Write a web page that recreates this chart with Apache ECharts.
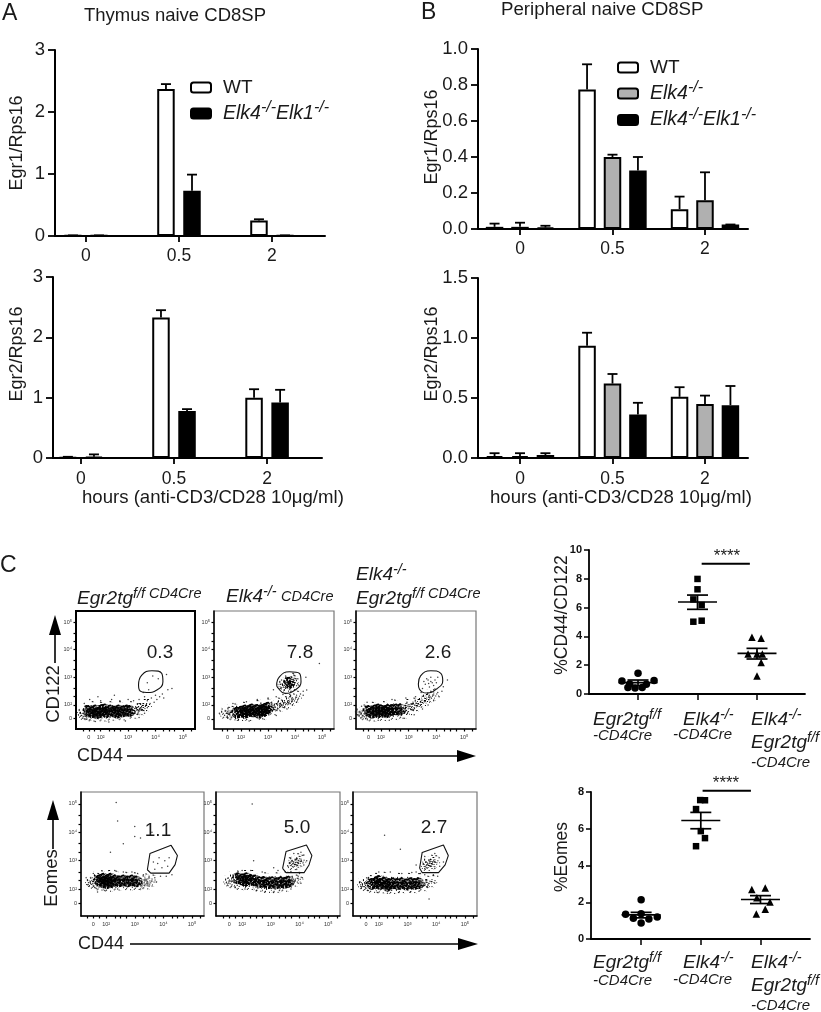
<!DOCTYPE html>
<html><head><meta charset="utf-8">
<style>html,body{margin:0;padding:0;background:#fff}#c{width:821px;height:1012px}</style>
<script src="https://cdn.jsdelivr.net/npm/echarts@6/dist/echarts.min.js"></script>
</head><body><div id="c"></div>
<script>
// ---------- bar panel data ----------
const timeCategories = ['0','0.5','2'];
const a1WT = [0.005,2.37,0.25],  a1WTerr = [0.01,2.45,0.27];
const a1DK = [0.005,0.73,0.005], a1DKerr = [0.01,0.99,0.01];
const a2WT = [0.01,2.33,1.0],    a2WTerr = [0.02,2.45,1.14];
const a2DK = [0.02,0.78,0.92],   a2DKerr = [0.06,0.81,1.13];
const b1WT = [0.012,0.775,0.11], b1WTerr = [0.03,0.915,0.18];
const b1KO = [0.012,0.40,0.16],  b1KOerr = [0.035,0.413,0.315];
const b1DK = [0.008,0.325,0.025],b1DKerr = [0.018,0.40,0.025];
const b2WT = [0.015,0.936,0.51], b2WTerr = [0.04,1.044,0.59];
const b2KO = [0.015,0.62,0.45],  b2KOerr = [0.04,0.70,0.52];
const b2DK = [0.025,0.363,0.44], b2DKerr = [0.04,0.46,0.60];

// ---------- dot plot data ----------
const cd122Circles = [[0,1.44],[-0.27,0.90],[0.27,0.93],[-0.14,0.69],[0.14,0.67],[-0.17,0.46],[-0.05,0.42],[0.07,0.46]];
const cd122Squares = [[1,7.99],[1,7.27],[0.93,6.57],[1.07,6.18],[0.93,5.02],[1.07,5.09]];
const cd122Triangles = [[1.915,3.94],[2.07,3.87],[1.85,2.78],[2,2.78],[2.09,2.78],[2.07,2.18],[2,1.25]];
const cd122Stats = [[0,0.79,0.97,0.58],[1,6.39,6.87,5.88],[2,2.82,3.17,2.43]];
const eomesCircles = [[0,2.13],[-0.26,1.35],[0,1.38],[-0.13,1.13],[0.13,1.09],[0.27,1.2],[0,0.87]];
const eomesSquares = [[0.99,7.56],[1.07,7.55],[0.92,7.07],[1,5.87],[1.07,5.49],[0.92,5.05]];
const eomesTriangles = [[1.855,2.69],[2.08,2.78],[1.94,2.24],[2.16,2.02],[2.08,1.62],[1.93,1.36]];
const eomesStats = [[0,1.31,1.45,1.15],[1,6.45,6.89,6.0],[2,2.15,2.36,1.93]];
const cd122Sig = [[1.07,9.05],[1.88,9.05]];
const eomesSig = [[1.03,8.07],[1.84,8.07]];

// ---------- flow cytometry data (log10 decades, hand-read clusters) ----------
const flowTickVals = [2,3,4,5];
const flowTickText = ['10²','10³','10⁴','10⁵'];
const p1Core = [[1.55,1.78],[1.68,1.74],[1.8,1.8],[1.95,1.73],[2.05,1.82],[2.2,1.74],[2.35,1.8],[2.5,1.75],[2.65,1.8],[2.8,1.76],[2.95,1.8],[3.05,1.78],[1.85,1.7],[2.15,1.84],[2.6,1.72]];
const p1Halo = [[1.38,1.78],[1.42,1.68],[1.55,1.66],[1.7,1.62],[1.9,1.9],[2.1,1.62],[2.25,1.92],[2.4,1.65],[2.6,1.92],[2.8,1.66],[3.0,1.92],[3.2,1.72],[3.3,1.85],[3.45,1.85],[3.5,2.0],[1.6,1.92],[3.62,2.0]];
const p1Sparse = [[3.7,1.9],[3.7,2.15],[3.8,2.05],[3.85,2.25],[3.95,2.1],[4.0,2.35],[4.05,2.2],[4.15,2.3],[4.25,2.4],[4.3,2.25],[3.6,2.3],[3.4,2.2],[3.2,2.15],[3.0,2.2],[2.7,2.15],[2.4,2.2],[2.0,2.15],[1.6,2.2],[1.4,2.05],[1.25,1.7],[1.4,1.5],[1.8,1.4],[2.3,1.38],[2.9,1.42],[3.4,1.55],[3.6,1.7],[3.9,3.05],[3.7,2.8],[4.1,2.95],[4.6,2.6],[4.4,3.1],[4.45,2.55],[2.5,2.35],[1.9,2.3],[3.75,2.55],[3.55,2.45]];
const p1Gate = [[3.38,2.72],[3.5,3.08],[3.87,3.24],[4.23,3.14],[4.27,2.84],[4.05,2.54],[3.68,2.45],[3.41,2.54],[3.38,2.72]];

const p2Core = [[1.85,1.72],[2.0,1.75],[2.15,1.72],[2.3,1.78],[2.45,1.76],[2.6,1.82],[2.75,1.8],[2.9,1.86],[3.0,1.9],[2.4,1.84],[2.65,1.72],[2.15,1.8],[2.85,1.78],[3.78,2.8]];
const p2Halo = [[1.45,1.72],[1.58,1.75],[1.72,1.66],[1.68,1.84],[2.0,1.64],[2.0,1.9],[2.3,1.64],[2.5,1.96],[2.8,1.68],[2.9,2.02],[3.2,1.85],[3.3,2.05],[3.4,1.98],[3.55,2.1],[3.7,2.1],[3.85,2.2],[3.75,2.82],[3.88,2.86],[3.7,2.7],[3.92,2.75],[3.82,2.95],[3.6,2.8],[4.0,2.3]];
const p2Sparse = [[1.2,1.7],[1.3,1.85],[1.5,1.55],[1.9,1.45],[2.3,1.42],[2.8,1.5],[3.3,1.62],[3.7,1.85],[3.9,2.0],[4.1,2.2],[4.2,2.4],[4.3,2.5],[4.43,2.54],[4.3,2.35],[4.05,2.1],[3.3,2.3],[3.0,2.25],[2.6,2.2],[2.2,2.12],[1.7,2.05],[3.45,2.6],[3.5,2.9],[3.65,3.05],[3.95,3.08],[4.1,2.95],[4.12,2.72],[3.45,2.75],[3.6,2.55],[3.85,2.5],[4.4,3.0],[4.9,3.5],[3.2,2.55],[3.55,2.38],[3.8,2.38]];
const p2Gate = [[3.32,2.72],[3.42,3.02],[3.79,3.2],[4.16,3.14],[4.22,2.84],[4.0,2.54],[3.63,2.42],[3.35,2.64],[3.32,2.72]];

const p3Core = [[1.55,1.78],[1.68,1.72],[1.78,1.8],[1.9,1.74],[2.0,1.8],[2.12,1.76],[2.25,1.82],[2.4,1.82],[2.55,1.84],[2.7,1.84],[1.9,1.84],[2.2,1.74]];
const p3Halo = [[1.3,1.8],[1.4,1.72],[1.45,1.66],[1.6,1.9],[1.7,1.62],[2.0,1.92],[2.1,1.64],[2.4,1.98],[2.5,1.68],[2.8,1.72],[2.85,2.0],[3.05,1.85],[3.1,2.05],[3.25,2.0],[3.4,2.12],[3.55,2.18],[3.7,2.3],[3.85,2.38]];
const p3Sparse = [[1.15,1.65],[1.3,1.95],[1.5,2.1],[1.45,1.5],[1.9,1.45],[2.3,1.45],[2.8,1.52],[3.2,1.65],[3.5,1.85],[3.7,2.0],[3.9,2.15],[4.1,2.3],[4.2,2.5],[4.25,2.66],[4.05,2.45],[3.25,2.3],[2.9,2.25],[2.4,2.2],[3.5,2.6],[3.6,2.75],[3.7,2.9],[3.75,2.65],[3.8,3.0],[3.85,2.8],[3.9,2.7],[3.95,2.9],[4.0,2.8],[3.8,2.85],[3.72,2.78],[3.65,2.95],[4.05,3.0],[3.55,2.85],[3.9,2.55],[4.4,2.9],[3.45,2.45]];
const p3Gate = [[3.35,2.76],[3.43,3.05],[3.8,3.24],[4.16,3.14],[4.23,2.88],[4.01,2.58],[3.65,2.43],[3.39,2.57],[3.35,2.76]];

const p4Core = [[1.75,2.3],[1.88,2.24],[1.9,2.36],[2.02,2.3],[2.15,2.36],[2.15,2.24],[2.3,2.3],[2.45,2.27],[2.6,2.3],[2.75,2.27],[2.9,2.3],[3.05,2.27],[2.02,2.2]];
const p4Halo = [[1.5,2.28],[1.6,2.22],[1.62,2.36],[1.75,2.45],[2.0,2.46],[2.25,2.44],[1.8,2.16],[2.1,2.12],[2.4,2.16],[2.6,2.4],[2.9,2.38],[3.2,2.27],[3.3,2.34],[3.4,2.2],[3.55,2.3],[2.8,2.17],[3.1,2.18]];
const p4Sparse = [[1.35,2.15],[1.3,2.4],[1.55,2.55],[1.6,2.05],[1.7,1.9],[1.95,1.95],[2.4,2.0],[2.3,2.65],[2.6,2.6],[2.9,2.6],[3.1,2.55],[3.3,2.5],[3.5,2.45],[3.7,2.4],[3.9,2.45],[4.1,2.45],[4.3,2.5],[3.75,2.25],[3.5,2.1],[3.2,2.0],[3.7,2.7],[3.8,2.9],[3.95,2.75],[4.05,3.0],[4.15,2.8],[3.85,3.1],[4.2,3.1],[3.65,2.95],[2.15,3.3],[2.6,3.6],[2.4,4.4],[3.0,3.85],[3.2,3.8],[3.0,4.2],[2.35,5.05],[3.6,4.0]];
const p4Gate = [[3.44,2.68],[3.53,3.25],[4.27,3.54],[4.49,3.18],[4.41,2.86],[4.2,2.56],[3.56,2.56],[3.44,2.68]];

const p5Core = [[1.85,2.38],[2.0,2.34],[2.15,2.38],[2.3,2.32],[2.45,2.3],[2.6,2.24],[2.75,2.25],[2.9,2.2],[3.05,2.24],[3.2,2.2],[3.35,2.24],[3.5,2.22],[3.62,2.26],[2.1,2.28]];
const p5Halo = [[1.58,2.3],[1.7,2.24],[1.75,2.44],[2.0,2.46],[2.25,2.46],[1.95,2.18],[2.3,2.18],[2.6,2.12],[2.9,2.08],[3.2,2.08],[3.5,2.12],[2.7,2.38],[3.1,2.38],[3.5,2.4],[3.8,2.3],[3.9,2.4],[3.9,2.96],[3.8,2.88],[4.0,3.0],[3.85,3.05]];
const p5Sparse = [[1.45,2.22],[1.5,2.38],[1.75,2.08],[2.1,2.0],[2.5,1.95],[2.8,1.9],[3.1,1.88],[3.3,1.95],[3.7,2.0],[4.05,2.2],[4.1,2.4],[4.0,2.55],[3.7,2.62],[3.5,2.6],[3.25,2.65],[3.1,2.75],[2.7,2.6],[2.3,2.65],[2.0,2.65],[2.4,3.0],[3.6,2.8],[3.65,3.1],[3.7,2.95],[4.15,2.85],[4.15,3.2],[4.05,3.3],[3.8,3.25],[3.9,2.7],[4.25,3.0],[2.35,5.0]];
const p5Gate = [[3.41,2.73],[3.53,3.32],[4.24,3.55],[4.43,3.18],[4.33,2.85],[4.16,2.58],[3.53,2.58],[3.41,2.73]];

const p6Core = [[1.75,2.18],[1.9,2.22],[2.05,2.18],[2.2,2.22],[2.35,2.18],[2.5,2.2],[2.65,2.18],[2.8,2.2],[2.95,2.16],[3.1,2.2],[3.25,2.18],[3.38,2.2],[2.0,2.28],[2.3,2.12]];
const p6Halo = [[1.48,2.2],[1.58,2.14],[1.62,2.28],[1.8,2.36],[2.1,2.4],[1.8,2.08],[2.1,2.06],[2.5,2.04],[2.8,2.07],[3.2,2.07],[2.6,2.36],[2.95,2.36],[3.3,2.35],[3.55,2.14],[3.62,2.26],[3.8,2.28],[3.8,2.92],[3.7,2.85],[3.9,2.98],[3.75,3.0]];
const p6Sparse = [[1.35,2.25],[1.4,2.08],[1.6,1.95],[1.95,1.88],[2.3,1.85],[2.7,1.88],[3.1,1.9],[3.4,1.92],[3.7,2.05],[3.95,2.2],[4.05,2.45],[3.9,2.5],[3.6,2.5],[3.45,2.55],[3.3,2.6],[3.15,2.58],[2.8,2.55],[2.4,2.6],[2.0,2.6],[3.6,3.15],[3.6,2.72],[3.95,3.25],[4.1,3.1],[4.12,2.8],[3.95,2.72],[4.25,2.95],[2.2,3.9],[2.75,3.4],[3.3,2.85],[3.75,1.65]];
const p6Gate = [[3.42,2.73],[3.51,3.29],[4.25,3.55],[4.42,3.18],[4.31,2.85],[4.08,2.58],[3.51,2.58],[3.42,2.73]];

// ---------- helpers ----------
const FONT = '"Liberation Sans",Arial,sans-serif';
const TXT = '#1a1a1a';
const grid=[],xAxis=[],yAxis=[],series=[],graphic=[];
// Speckle fill style for the flow-cytometry symbols (a texture, not data).
function speckleTile(density){
  const c=document.createElement('canvas'); c.width=c.height=29;
  const ctx=c.getContext('2d'); ctx.fillStyle='#000';
  for(let x=0;x<29;x++)for(let y=0;y<29;y++){
    if((x*x*x*7+y*y*13+x*y*29+x*3+y*5)%101<density*101) ctx.fillRect(x,y,1,1);
  }
  return c;
}
const tileDense=speckleTile(0.55), tileThin=speckleTile(0.14);
const patternFill=(tile,size)=>({image:tile,repeat:'repeat',scaleX:2/size,scaleY:2/size});
function addGrid(x0,x1,y0,y1,extra){
  grid.push(Object.assign({left:x0,top:y0,width:x1-x0,height:y1-y0,containLabel:false},extra||{}));
  return grid.length-1;
}
const errorRender = (capPx)=>function(params,api){
  const x=api.value(0),lo=api.coord([x,api.value(1)]),hi=api.coord([x,api.value(2)]);
  return {type:'group',children:[
    {type:'line',shape:{x1:lo[0],y1:lo[1],x2:hi[0],y2:hi[1]},style:{stroke:'#000',lineWidth:1.8}},
    {type:'line',shape:{x1:hi[0]-capPx,y1:hi[1],x2:hi[0]+capPx,y2:hi[1]},style:{stroke:'#000',lineWidth:1.8}}
  ]};
};
function barPanel(cfg){
  const g=addGrid(cfg.x0,cfg.x1,cfg.y0,cfg.y1);
  xAxis.push({gridIndex:g,type:'value',min:cfg.xMin,max:cfg.xMax,splitLine:{show:false},
    axisLine:{onZero:false,lineStyle:{color:'#000',width:2}},
    axisTick:{show:true,customValues:[0,1,2],length:6,lineStyle:{color:'#000',width:1.8}},
    axisLabel:{customValues:[0,1,2],formatter:v=>timeCategories[v],fontFamily:FONT,fontSize:17.5,color:TXT,margin:cfg.xMargin||10}});
  yAxis.push({gridIndex:g,type:'value',min:0,max:cfg.yMax,interval:cfg.yInt,splitLine:{show:false},
    axisLine:{show:true,onZero:false,lineStyle:{color:'#000',width:2}},
    axisTick:{show:true,length:7,lineStyle:{color:'#000',width:1.8}},
    axisLabel:{formatter:v=>cfg.yFmt?v.toFixed(1):String(v),fontFamily:FONT,fontSize:18.5,color:TXT,margin:10}});
  text(cfg.yName,cfg.nameX,cfg.nameY,{fontSize:18,rotation:Math.PI/2,align:'center'});
  cfg.bars.forEach(b=>{
    series.push({type:'bar',name:b.name,xAxisIndex:g,yAxisIndex:g,barWidth:17.5,barGap:'-100%',silent:true,
      itemStyle:{color:b.color,borderColor:'#000',borderWidth:2},
      data:b.v.map((v,i)=>[i+b.off,v])});
    series.push({type:'custom',xAxisIndex:g,yAxisIndex:g,silent:true,renderItem:errorRender(5),
      encode:{x:0,y:[1,2]},data:b.v.map((v,i)=>[i+b.off,v,b.e[i]]),z:1});
  });
}
function flowPanel(cfg){
  const g=addGrid(cfg.x0,cfg.x1,cfg.y0,cfg.y1,{show:true,borderColor:cfg.border||'#777',borderWidth:cfg.bw||1.2,backgroundColor:'#fff'});
  const minorX=[cfg.zeroX,cfg.zeroX-0.2,cfg.zeroX+0.2,2,2.3,2.5,2.7,3,3.3,3.5,3.7,4,4.3,4.5,4.7,5,5.3].filter(v=>v>cfg.xR[0]&&v<cfg.xR[1]);
  const minorY=[cfg.zeroY,2,2.3,2.6,3,3.3,3.6,4,4.3,4.6,5].filter(v=>v>cfg.yR[0]&&v<cfg.yR[1]);
  const labels=(z)=>[z].concat(flowTickVals);
  const fmt=(z)=>(v=>v===z?'0':flowTickText[flowTickVals.indexOf(v)]);
  xAxis.push({gridIndex:g,type:'value',min:cfg.xR[0],max:cfg.xR[1],splitLine:{show:false},
    axisLine:{onZero:false,lineStyle:{color:'#000',width:1.5}},
    axisTick:{show:true,customValues:minorX,length:2.5,lineStyle:{color:'#000',width:1.2}},
    axisLabel:{customValues:labels(cfg.zeroX),formatter:fmt(cfg.zeroX),fontFamily:FONT,fontSize:5.5,color:'#333',margin:5}});
  yAxis.push({gridIndex:g,type:'value',min:cfg.yR[0],max:cfg.yR[1],splitLine:{show:false},
    axisLine:{show:true,onZero:false,lineStyle:{color:'#000',width:1.5}},
    axisTick:{show:true,customValues:minorY,length:2.5,lineStyle:{color:'#000',width:1.2}},
    axisLabel:{customValues:labels(cfg.zeroY),formatter:fmt(cfg.zeroY),fontFamily:FONT,fontSize:5.5,color:'#333',margin:4}});
  const sc=(data,size,fill,op)=>series.push({type:'scatter',xAxisIndex:g,yAxisIndex:g,silent:true,symbolSize:size,data,
    itemStyle:{color:fill,opacity:op},animation:false});
  sc(cfg.halo,14,patternFill(tileThin,14),1);
  sc(cfg.core,12,patternFill(tileDense,12),1);
  sc(cfg.sparse,1.5,'#000',0.75);
  series.push({type:'line',xAxisIndex:g,yAxisIndex:g,silent:true,data:cfg.gate,smooth:cfg.smooth||0,showSymbol:false,
    lineStyle:{color:'#111',width:1.1},z:5});
  text(cfg.pct,(cfg.pctX),(cfg.pctY),{fontSize:19,align:'center',verticalAlign:'middle'});
}
function text(t,x,y,o){
  const st=Object.assign({text:t,fontFamily:FONT,fill:TXT,fontSize:16,align:'left',verticalAlign:'middle'},o||{});
  const rotation=st.rotation||0; delete st.rotation;
  graphic.push({type:'text',x,y,silent:true,z:20,rotation,style:st});
}
const RICH={
  i:{fontFamily:FONT,fontStyle:'italic',fontSize:19,fill:TXT,color:TXT},
  s:{fontFamily:FONT,fontStyle:'italic',fontSize:14.5,fill:TXT,color:TXT,padding:[0,0,10,0]},
  n:{fontFamily:FONT,fontStyle:'italic',fontSize:14.5,fill:TXT,color:TXT},
  l:{fontFamily:FONT,fontStyle:'italic',fontSize:19.5,color:TXT},
  ls:{fontFamily:FONT,fontStyle:'italic',fontSize:16,color:TXT,padding:[0,0,11,0]},
  w:{fontFamily:FONT,fontSize:19,color:TXT},
  g:{width:7}
};
function rt(t,x,y){text(t,x,y,{rich:RICH});}
function arrow(x1,y1,x2,y2,hl,hw){
  const dx=Math.sign(x2-x1),dy=Math.sign(y2-y1);
  const bx=x2-dx*hl,by=y2-dy*hl;
  graphic.push({type:'line',silent:true,z:20,shape:{x1,y1,x2:bx,y2:by},style:{stroke:'#000',lineWidth:1.6}});
  graphic.push({type:'polygon',silent:true,z:20,shape:{points:[[x2,y2],[bx+dy*hw,by+dx*hw],[bx-dy*hw,by-dx*hw]]},style:{fill:'#000'}});
}
function dotPanel(cfg){
  const g=addGrid(cfg.x0,cfg.x1,cfg.y0,cfg.y1);
  xAxis.push({gridIndex:g,type:'value',min:cfg.xMin,max:cfg.xMax,splitLine:{show:false},
    axisLine:{onZero:false,lineStyle:{color:'#000',width:1.8}},
    axisTick:{show:true,customValues:[0,1,2],length:6,lineStyle:{color:'#000',width:1.5}},
    axisLabel:{show:false}});
  yAxis.push({gridIndex:g,type:'value',min:0,max:cfg.yMax,interval:cfg.yInt,splitLine:{show:false},
    axisLine:{show:true,onZero:false,lineStyle:{color:'#000',width:1.8}},
    axisTick:{show:true,length:5,lineStyle:{color:'#000',width:1.5}},
    axisLabel:{fontFamily:FONT,fontSize:11,fontWeight:'bold',color:'#111',margin:7}});
  text(cfg.yName,cfg.nameX,cfg.nameY,{fontSize:17.5,rotation:Math.PI/2,align:'center'});
  [[cfg.c,'circle',7.5],[cfg.s,'rect',6.5],[cfg.t,'triangle',7.5]].forEach(d=>{
    series.push({type:'scatter',xAxisIndex:g,yAxisIndex:g,silent:true,symbol:d[1],symbolSize:d[2],data:d[0],itemStyle:{color:'#000',opacity:1}});
  });
  series.push({type:'custom',xAxisIndex:g,yAxisIndex:g,silent:true,z:4,clip:false,encode:{x:0,y:[1,2,3]},data:cfg.stats,
    renderItem(params,api){
      const x=api.value(0),pts=[1,2,3].map(i=>api.coord([x,api.value(i)]));
      const seg=(p,h)=>({type:'line',shape:{x1:p[0]-h,y1:p[1],x2:p[0]+h,y2:p[1]},style:{stroke:'#000',lineWidth:1.7}});
      return {type:'group',children:[seg(pts[0],19.5),seg(pts[1],10.5),seg(pts[2],10.5),
        {type:'line',shape:{x1:pts[1][0],y1:pts[1][1],x2:pts[2][0],y2:pts[2][1]},style:{stroke:'#000',lineWidth:1.7}}]};
    }});
  series.push({type:'line',xAxisIndex:g,yAxisIndex:g,silent:true,showSymbol:false,clip:false,data:cfg.sig,lineStyle:{color:'#000',width:2}});
}

// ---------- bar panels ----------
const OFF_A=0.14, OFF_B=0.275;
const nWT='WT', nKO='Elk4-/-', nDK='Elk4-/-Elk1-/-';
barPanel({x0:55,x1:325,y0:50,y1:236,xMin:-0.333,xMax:2.57,yMax:3,yInt:1,yName:'Egr1/Rps16',nameX:17,nameY:143,xMargin:11,
  bars:[{name:nWT,color:'#fff',v:a1WT,e:a1WTerr,off:-OFF_A},{name:nDK,color:'#000',v:a1DK,e:a1DKerr,off:OFF_A}]});
barPanel({x0:53,x1:322,y0:277,y1:458,xMin:-0.30,xMax:2.59,yMax:3,yInt:1,yName:'Egr2/Rps16',nameX:17,nameY:354,xMargin:12,
  bars:[{name:nWT,color:'#fff',v:a2WT,e:a2WTerr,off:-OFF_A},{name:nDK,color:'#000',v:a2DK,e:a2DKerr,off:OFF_A}]});
barPanel({x0:478,x1:748,y0:49,y1:229,xMin:-0.454,xMax:2.465,yMax:1,yInt:0.2,yFmt:true,yName:'Egr1/Rps16',nameX:432,nameY:137,xMargin:11,
  bars:[{name:nWT,color:'#fff',v:b1WT,e:b1WTerr,off:-OFF_B},{name:nKO,color:'#b0b0b0',v:b1KO,e:b1KOerr,off:0},{name:nDK,color:'#000',v:b1DK,e:b1DKerr,off:OFF_B}]});
barPanel({x0:478,x1:748,y0:278,y1:458,xMin:-0.454,xMax:2.465,yMax:1.5,yInt:0.5,yFmt:true,yName:'Egr2/Rps16',nameX:432,nameY:354,xMargin:12,
  bars:[{name:nWT,color:'#fff',v:b2WT,e:b2WTerr,off:-OFF_B},{name:nKO,color:'#b0b0b0',v:b2KO,e:b2KOerr,off:0},{name:nDK,color:'#000',v:b2DK,e:b2DKerr,off:OFF_B}]});

// ---------- flow panels ----------
const yR1=[1.13,5.4], yR2=[1.05,5.42];
flowPanel({x0:76,x1:195,y0:611,y1:729,xR:[1.1,5.44],yR:yR1,zeroX:1.57,zeroY:1.52,core:p1Core,halo:p1Halo,sparse:p1Sparse,gate:p1Gate,smooth:0.5,border:'#000',bw:2,pct:'0.3',pctX:160,pctY:653});
flowPanel({x0:214,x1:334,y0:611,y1:729,xR:[1.0,5.44],yR:yR1,zeroX:1.5,zeroY:1.5,core:p2Core,halo:p2Halo,sparse:p2Sparse,gate:p2Gate,smooth:0.5,pct:'7.8',pctX:300,pctY:653});
flowPanel({x0:356,x1:476,y0:611,y1:729,xR:[1.1,5.43],yR:yR1,zeroX:1.55,zeroY:1.52,core:p3Core,halo:p3Halo,sparse:p3Sparse,gate:p3Gate,smooth:0.5,pct:'2.6',pctX:438,pctY:653});
flowPanel({x0:81,x1:204,y0:792,y1:916,xR:[1.12,5.42],yR:yR2,zeroX:1.55,zeroY:1.5,core:p4Core,halo:p4Halo,sparse:p4Sparse,gate:p4Gate,pct:'1.1',pctX:158,pctY:831});
flowPanel({x0:216,x1:340,y0:792,y1:916,xR:[1.09,5.41],yR:yR2,zeroX:1.55,zeroY:1.5,core:p5Core,halo:p5Halo,sparse:p5Sparse,gate:p5Gate,pct:'5.0',pctX:297,pctY:828});
flowPanel({x0:353,x1:477,y0:792,y1:916,xR:[1.1,5.42],yR:yR2,zeroX:1.55,zeroY:1.5,core:p6Core,halo:p6Halo,sparse:p6Sparse,gate:p6Gate,pct:'2.7',pctX:434,pctY:828});

// ---------- dot panels ----------
dotPanel({x0:589,x1:805,y0:550,y1:694,xMin:-0.824,xMax:2.807,yMax:10,yInt:2,yName:'%CD44/CD122',nameX:562,nameY:615,c:cd122Circles,s:cd122Squares,t:cd122Triangles,stats:cd122Stats,sig:cd122Sig});
dotPanel({x0:591,x1:810,y0:792,y1:939,xMin:-0.84,xMax:2.83,yMax:8,yInt:2,yName:'%Eomes',nameX:562,nameY:857,c:eomesCircles,s:eomesSquares,t:eomesTriangles,stats:eomesStats,sig:eomesSig});

// ---------- annotation text ----------
text('A',2,14,{fontSize:23});
text('B',421,13,{fontSize:23});
text('C',0,566,{fontSize:23});
text('Thymus naive CD8SP',84,16,{fontSize:18.5});
text('Peripheral naive CD8SP',501,10,{fontSize:18.7});
text('hours (anti-CD3/CD28 10μg/ml)',82,498,{fontSize:18.6});
text('hours (anti-CD3/CD28 10μg/ml)',490,498,{fontSize:18.6});
// column titles
rt('{i|Egr2tg}{s|f/f CD4Cre}',77,599);
rt('{i|Elk4}{s|-/-} {n|CD4Cre}',226,597);
rt('{i|Elk4}{s|-/-}',356,575);
rt('{i|Egr2tg}{s|f/f CD4Cre}',356,599);
// flow axes
text('CD122',54,694,{fontSize:18.5,rotation:Math.PI/2,align:'center'});
text('Eomes',52,878,{fontSize:18.5,rotation:Math.PI/2,align:'center'});
text('CD44',77,756,{fontSize:18});
text('CD44',78,944,{fontSize:18});
arrow(55,663,55,615,20,6);
arrow(53,849,53,800,20,6);
arrow(127,756,476,756,19,6);
arrow(130,944,478,944,20,6);
// dot plot categories
const dotLabel1=['{i|Egr2tg}{s|f/f}','-CD4Cre'], dotLabel2=['{i|Elk4}{s|-/-}','-CD4Cre'], dotLabel3=['{i|Elk4}{s|-/-}','{i|Egr2tg}{s|f/f}','-CD4Cre'];
const dotRows=[[720,736,720,735,720,743,763],[963,981,963,980,963,986,1006]];
dotRows.forEach(r=>{
  rt(dotLabel1[0],593,r[0]); text(dotLabel1[1],593,r[1],{fontSize:15,fontStyle:'italic'});
  rt(dotLabel2[0],683,r[2]); text(dotLabel2[1],673,r[3],{fontSize:15,fontStyle:'italic'});
  rt(dotLabel3[0],751,r[4]); rt(dotLabel3[1],751,r[5]); text(dotLabel3[2],751,r[6],{fontSize:15,fontStyle:'italic'});
});
text('****',727,556,{fontSize:17,align:'center'});
text('****',726,783,{fontSize:17,align:'center'});

// ---------- legends ----------
const legendFmt=n=>n===nWT?'{g|}{w|WT}':n===nKO?'{g|}{l|Elk4}{ls|-/-}':'{g|}{l|Elk4}{ls|-/-}{l|Elk1}{ls|-/-}';
const legend=[
 {data:[nWT,nDK],left:190,top:78,padding:0,orient:'vertical',itemWidth:20,itemHeight:10,itemGap:3,selectedMode:false,formatter:legendFmt,textStyle:{rich:RICH}},
 {data:[nWT,nKO,nDK],left:617,top:58,padding:0,orient:'vertical',itemWidth:20,itemHeight:10,itemGap:3,selectedMode:false,formatter:legendFmt,textStyle:{rich:RICH}}
];

const chart=echarts.init(document.getElementById('c'),null,{renderer:'canvas'});
chart.setOption({animation:false,backgroundColor:'#fff',textStyle:{fontFamily:FONT},grid,xAxis,yAxis,series,legend,graphic:{elements:graphic},tooltip:{show:false}});
</script></body></html>
